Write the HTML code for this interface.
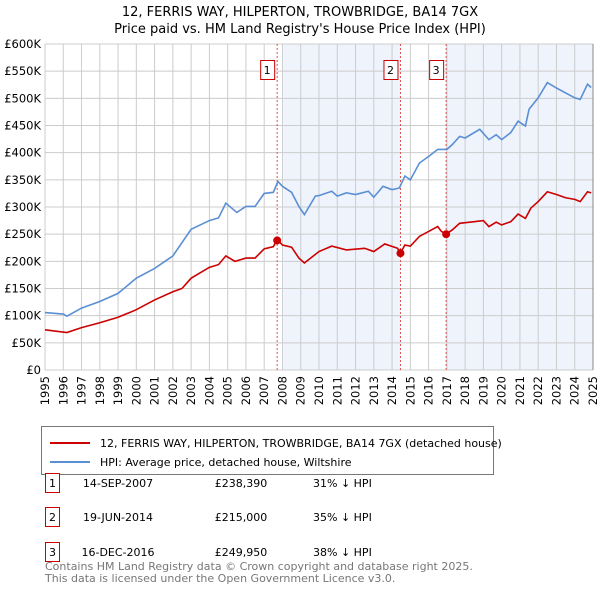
<!DOCTYPE html>
<html><head><meta charset="utf-8"><style>
body{margin:0;background:#fff;font-family:"Liberation Sans","DejaVu Sans",sans-serif;}
svg{display:block}
</style></head><body>
<svg id="c" width="600" height="590" xmlns="http://www.w3.org/2000/svg" font-family="DejaVu Sans, Liberation Sans, sans-serif">
<text x="300" y="16" text-anchor="middle" font-size="13">12, FERRIS WAY, HILPERTON, TROWBRIDGE, BA14 7GX</text>
<text x="300" y="33" text-anchor="middle" font-size="13">Price paid vs. HM Land Registry's House Price Index (HPI)</text>
<g id="plot"></g>
<g>
<rect x="41.5" y="426.5" width="452" height="48" fill="#fff" stroke="#777"/>
<line x1="50" y1="443" x2="90" y2="443" stroke="#cc0000" stroke-width="2"/>
<text x="100" y="447" font-size="11">12, FERRIS WAY, HILPERTON, TROWBRIDGE, BA14 7GX (detached house)</text>
<line x1="50" y1="462" x2="90" y2="462" stroke="#5b8fd4" stroke-width="2"/>
<text x="100" y="466" font-size="11">HPI: Average price, detached house, Wiltshire</text>
</g>
<g font-size="11">
<rect x="45.5" y="473.5" width="14" height="19" fill="#fff" stroke="#cc0000"/><text x="52.5" y="487" text-anchor="middle">1</text>
<text x="118" y="487" text-anchor="middle">14-SEP-2007</text><text x="241" y="487" text-anchor="middle">£238,390</text><text x="313" y="487">31% ↓ HPI</text>
<rect x="45.5" y="507.5" width="14" height="19" fill="#fff" stroke="#cc0000"/><text x="52.5" y="521" text-anchor="middle">2</text>
<text x="118" y="521" text-anchor="middle">19-JUN-2014</text><text x="241" y="521" text-anchor="middle">£215,000</text><text x="313" y="521">35% ↓ HPI</text>
<rect x="45.5" y="542.5" width="14" height="19" fill="#fff" stroke="#cc0000"/><text x="52.5" y="556" text-anchor="middle">3</text>
<text x="118" y="556" text-anchor="middle">16-DEC-2016</text><text x="241" y="556" text-anchor="middle">£249,950</text><text x="313" y="556">38% ↓ HPI</text>
</g>
<text x="45" y="570" font-size="11" fill="#777">Contains HM Land Registry data © Crown copyright and database right 2025.</text>
<text x="45" y="582" font-size="11" fill="#777">This data is licensed under the Open Government Licence v3.0.</text>
</svg>
<script>
const hpiYears=[1995,1996,1996.2,1997,1998,1999,2000,2001,2002,2003,2004,2004.5,2004.9,2005.5,2006,2006.5,2007,2007.5,2007.75,2008,2008.5,2008.9,2009.2,2009.8,2010,2010.7,2011,2011.5,2012,2012.7,2013,2013.5,2014,2014.4,2014.7,2015,2015.5,2016,2016.5,2017,2017.3,2017.7,2018,2018.8,2019.3,2019.7,2020,2020.5,2020.9,2021.3,2021.5,2022,2022.5,2023,2023.5,2024,2024.3,2024.7,2024.9];
const hpiValues=[105.7,103,99,114,126,141,169,187,210,259,275,280,307,290,301,301,325,327,347,338,327,301,286,320,321,329,320,326,323,329,318,338,332,335,357,350,381,393,406,406,415,430,427,443,424,433,424,437,458,449,480,501,529,519,510,501,498,526,520];
const propYears=[1995,1996.2,1997,1998,1999,2000,2001,2002,2002.5,2003,2004,2004.5,2004.9,2005.4,2006,2006.5,2007,2007.5,2007.71,2008,2008.5,2008.9,2009.2,2010,2010.7,2011.5,2012.5,2013,2013.6,2014.3,2014.46,2014.7,2015,2015.5,2016.5,2016.7,2016.96,2017.3,2017.7,2018.5,2019,2019.3,2019.7,2020,2020.5,2020.9,2021.3,2021.6,2022,2022.5,2023,2023.5,2024,2024.3,2024.7,2024.9];
const propValues=[74,69,78,87,97,111,129,144,150,169,189,194,210,200,206,206,223,227,240,230,226,206,197,218,228,221,224,218,232,224,215,230,228,246,264,255,250,258,270,273,275,264,272,267,273,287,279,298,310,328,323,317,314,310,328,326];
const saleLabels=["1","2","3"];
const saleYears=[2007.71,2014.46,2016.96];
const saleValues=[238.39,215,249.95];
const yTicks=[0,50,100,150,200,250,300,350,400,450,500,550,600];
const xTicks=[1995,1996,1997,1998,1999,2000,2001,2002,2003,2004,2005,2006,2007,2008,2009,2010,2011,2012,2013,2014,2015,2016,2017,2018,2019,2020,2021,2022,2023,2024,2025];

const NS="http://www.w3.org/2000/svg";
const X0=45,X1=593,Y0=370,Y1=44;
const xs=y=>X0+(y-1995)/30*(X1-X0);
const ys=v=>Y0-v/600*(Y0-Y1);
const plot=document.getElementById('plot');
function mk(t,a,p){const e=document.createElementNS(NS,t);for(const k in a)e.setAttribute(k,a[k]);(p||plot).appendChild(e);return e;}
const sh=[[2008.05,2014.46],[2016.96,2025]];
sh.forEach(s=>{const r=mk('rect',{x:xs(s[0]),y:Y1,width:xs(s[1])-xs(s[0]),height:Y0-Y1,fill:'#eef3fc'});

});
yTicks.forEach(v=>{const l=mk('line',{x1:X0,x2:X1,y1:ys(v),y2:ys(v),stroke:'#ccc'});


const t=mk('text',{x:X0-4,y:ys(v)+4,'text-anchor':'end','font-size':'11.5'});t.textContent=v===0?'£0':'£'+v+'K';

});
xTicks.forEach(y=>{const l=mk('line',{x1:xs(y),x2:xs(y),y1:Y1,y2:Y0,stroke:'#ccc'});


const tx=xs(y)+4, ty=376;
const t=mk('text',{x:tx,y:ty,'text-anchor':'end','font-size':'11.5',transform:'rotate(-90 '+tx+' '+ty+')'});t.textContent=String(y);

});
mk('line',{x1:X1,x2:X1,y1:Y1,y2:Y0,stroke:'#888'});
saleYears.forEach((y,i)=>{const l=mk('line',{x1:xs(y),x2:xs(y),y1:Y1,y2:Y0,stroke:'#e05050','stroke-dasharray':'2,2'});


const r=mk('rect',{x:xs(y)-17+0.5,y:60.5,width:14,height:19,fill:'#fff',stroke:'#cc0000'});


const t=mk('text',{x:xs(y)-10,y:74,'text-anchor':'middle','font-size':'11'});t.textContent=saleLabels[i];

});
const hp=mk('polyline',{points:hpiYears.map((y,i)=>xs(y)+','+ys(hpiValues[i])).join(' '),fill:'none',stroke:'#5b8fd4','stroke-width':1.6});


const pp=mk('polyline',{points:propYears.map((y,i)=>xs(y)+','+ys(propValues[i])).join(' '),fill:'none',stroke:'#cc0000','stroke-width':1.6});


saleYears.forEach((y,i)=>{const c=mk('circle',{cx:xs(y),cy:ys(saleValues[i]),r:4,fill:'#cc0000'});

});
</script>
</body></html>
